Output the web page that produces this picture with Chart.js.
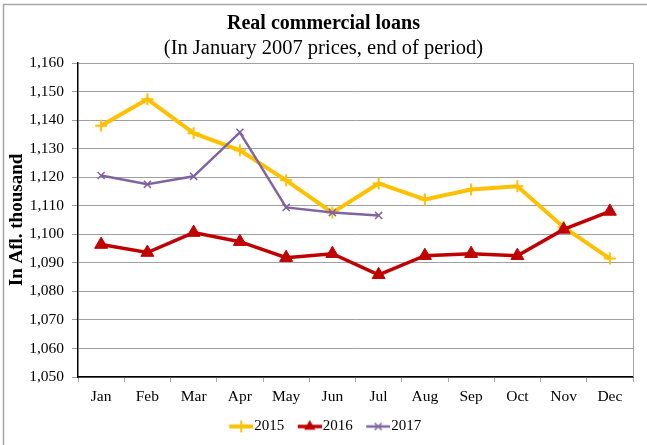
<!DOCTYPE html>
<html>
<head>
<meta charset="utf-8">
<script src="https://cdn.jsdelivr.net/npm/chart.js@4.4.1/dist/chart.umd.min.js"></script>
<style>
  html, body { margin: 0; padding: 0; background: #fff; }
  canvas { display: block; }
</style>
</head>
<body>
<canvas id="c" width="647" height="445"></canvas>
<script>
const months = ['Jan', 'Feb', 'Mar', 'Apr', 'May', 'Jun', 'Jul', 'Aug', 'Sep', 'Oct', 'Nov', 'Dec'];
const seriesNames = ['2015', '2016', '2017'];
const values2015 = [1138.0, 1147.3, 1135.4, 1129.4, 1118.9, 1107.6, 1117.8, 1112.2, 1115.7, 1116.8, 1102.5, 1091.5];
const values2016 = [1096.4, 1093.6, 1100.6, 1097.4, 1091.8, 1093.2, 1085.8, 1092.5, 1093.2, 1092.5, 1101.7, 1108.0];
const values2017 = [1120.6, 1117.5, 1120.3, 1135.7, 1109.4, 1107.6, 1106.6, null, null, null, null, null];
const yMin = 1050, yMax = 1160, yStep = 10;
const titleText = 'Real commercial loans';
const subtitleText = '(In January 2007 prices, end of period)';
const yAxisTitle = 'In Afl. thousand';

const SERIF = "'Liberation Serif', 'Times New Roman', serif";
const colors = ['#FFC000', '#C00000', '#8064A2'];
const styles = [
  { pointStyle: 'cross', radius: 6, lineWidth: 4, pointBorderWidth: 2 },
  { pointStyle: 'triangle', radius: 7.5, lineWidth: 3.5, pointBorderWidth: 1 },
  { pointStyle: 'crossRot', radius: 5, lineWidth: 2.5, pointBorderWidth: 1.5 }
];

function legendImage(i) {
  const c = document.createElement('canvas');
  c.width = 34; c.height = 16;
  const ctx = c.getContext('2d');
  const s = styles[i];
  ctx.strokeStyle = colors[i];
  ctx.fillStyle = colors[i];
  ctx.lineWidth = s.lineWidth;
  ctx.beginPath(); ctx.moveTo(10, 8); ctx.lineTo(34, 8); ctx.stroke();
  const cx = 22, cy = 8, r = s.radius;
  ctx.lineWidth = s.pointBorderWidth;
  if (s.pointStyle === 'cross') {
    ctx.beginPath(); ctx.moveTo(cx, cy - r); ctx.lineTo(cx, cy + r); ctx.moveTo(cx - r, cy); ctx.lineTo(cx + r, cy); ctx.stroke();
  } else if (s.pointStyle === 'triangle') {
    const rr = 6.5;
    ctx.beginPath();
    ctx.moveTo(cx, cy - rr);
    ctx.lineTo(cx + rr * Math.sin(Math.PI * 2 / 3), cy - rr * Math.cos(Math.PI * 2 / 3));
    ctx.lineTo(cx - rr * Math.sin(Math.PI * 2 / 3), cy - rr * Math.cos(Math.PI * 2 / 3));
    ctx.closePath(); ctx.fill();
  } else {
    const d = r * Math.SQRT1_2;
    ctx.beginPath(); ctx.moveTo(cx - d, cy - d); ctx.lineTo(cx + d, cy + d); ctx.moveTo(cx + d, cy - d); ctx.lineTo(cx - d, cy + d); ctx.stroke();
  }
  return c;
}
const legendImages = [0, 1, 2].map(legendImage);

const frame = {
  id: 'frame',
  afterDraw(chart) {
    const ctx = chart.ctx, a = chart.chartArea;
    ctx.save();
    ctx.strokeStyle = '#a6a6a6';
    ctx.lineWidth = 1;
    ctx.beginPath();
    ctx.moveTo(a.right + 0.5, a.top);
    ctx.lineTo(a.right + 0.5, a.bottom);
    ctx.stroke();
    ctx.strokeStyle = '#a6a6a6';
    ctx.lineWidth = 1.5;
    ctx.beginPath();
    ctx.moveTo(3.5, 445);
    ctx.lineTo(3.5, 4.5);
    ctx.lineTo(647, 4.5);
    ctx.stroke();
    ctx.restore();
  }
};

const datasets = [values2015, values2016, values2017].map((vals, i) => ({
  label: seriesNames[i],
  data: vals,
  borderColor: colors[i],
  backgroundColor: colors[i],
  borderWidth: styles[i].lineWidth,
  pointStyle: styles[i].pointStyle,
  pointRadius: styles[i].radius,
  pointBorderWidth: styles[i].pointBorderWidth,
  pointBorderColor: colors[i],
  pointBackgroundColor: colors[i],
  tension: 0,
  spanGaps: false,
  order: 3 - i
}));

new Chart(document.getElementById('c'), {
  type: 'line',
  data: { labels: months, datasets },
  plugins: [frame],
  options: {
    responsive: false,
    animation: false,
    devicePixelRatio: 1,
    layout: { padding: { left: 4, right: 4, top: 0, bottom: 1 } },
    plugins: {
      tooltip: { enabled: false },
      title: {
        display: true, text: titleText, color: '#000',
        font: { family: SERIF, size: 20, weight: 'bold', lineHeight: 1.2 },
        padding: { top: 12, bottom: 0 }
      },
      subtitle: {
        display: true, text: subtitleText, color: '#000',
        font: { family: SERIF, size: 20.5, weight: 'normal', lineHeight: 1.2 },
        padding: { top: 0.7, bottom: 1.7 }
      },
      legend: {
        position: 'bottom',
        labels: {
          color: '#000',
          font: { family: SERIF, size: 15 },
          usePointStyle: true,
          pointStyleWidth: 21,
          padding: 10,
          sort: (a, b) => a.datasetIndex - b.datasetIndex,
          generateLabels(chart) {
            const items = Chart.defaults.plugins.legend.labels.generateLabels(chart);
            items.forEach(it => { it.pointStyle = legendImages[it.datasetIndex]; });
            return items;
          }
        }
      }
    },
    scales: {
      x: {
        offset: true,
        grid: { display: true, drawOnChartArea: false, offset: true, tickLength: 5, color: '#a6a6a6', tickColor: '#a6a6a6' },
        border: { display: true, color: '#000', width: 1.5 },
        ticks: { color: '#000', font: { family: SERIF, size: 15.5 }, padding: 6, maxRotation: 0, autoSkip: false },
        afterFit(scale) { scale.height = 32; }
      },
      y: {
        min: yMin, max: yMax,
        grid: { color: '#a0a0a0', lineWidth: 1, tickLength: 6, tickColor: '#a0a0a0', tickBorderDash: [], borderDash: [3, 2] },
        border: { display: true, color: '#000', width: 1.5 },
        ticks: {
          stepSize: yStep, color: '#000', padding: 8,
          font: { family: SERIF, size: 15.5 },
          callback: v => v.toLocaleString('en-US')
        },
        title: {
          display: true, text: yAxisTitle, color: '#000',
          font: { family: SERIF, size: 19, weight: 'bold', lineHeight: 1.2 },
          padding: { top: 1.6, bottom: 0 }
        },
        afterFit(scale) { scale.width = 74; }
      },
      yRight: {
        position: 'right',
        display: true,
        min: yMin, max: yMax,
        grid: { display: false, drawTicks: false },
        border: { display: false },
        ticks: { display: false },
        afterFit(scale) { scale.width = 10; }
      }
    }
  }
});
</script>
</body>
</html>
